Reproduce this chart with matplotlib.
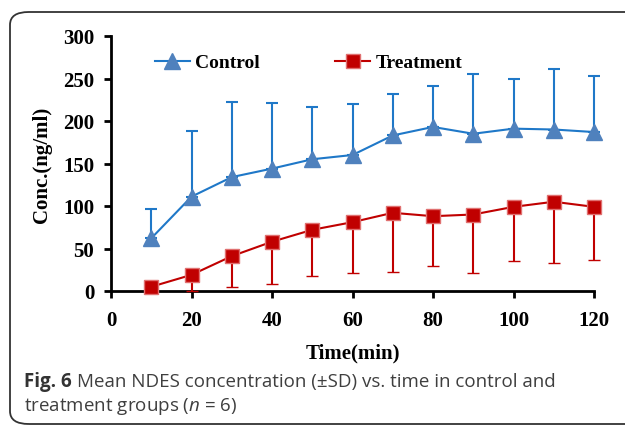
import numpy as np
import matplotlib.pyplot as plt
from matplotlib.patches import FancyBboxPatch

plt.rcParams['mathtext.fontset'] = 'custom'
plt.rcParams['mathtext.it'] = 'Open Sans:italic'
plt.rcParams['mathtext.rm'] = 'Open Sans'

time = [10, 20, 30, 40, 50, 60, 70, 80, 90, 100, 110, 120]
control = [62, 111, 134, 144, 155, 160, 183, 193, 185, 191, 190, 187]
control_top = [97, 188, 222, 221, 216, 220, 232, 241, 255, 249, 261, 253]
treatment = [5, 19, 41, 58, 72, 81, 92, 88, 90, 99, 105, 99]
treatment_low = [5, 0, 5, 8, 18, 21, 22, 29, 21, 35, 33, 37]

ctrl_sd = np.array(control_top) - np.array(control)
trt_sd = np.array(treatment) - np.array(treatment_low)

fig = plt.figure(figsize=(6.25, 4.27), dpi=100)

# rounded frame around figure + caption
frame = FancyBboxPatch((10 / 625, 2 / 427), 640 / 625, 412 / 427,
                       boxstyle="round,pad=0,rounding_size=0.03",
                       transform=fig.transFigure, fill=False,
                       edgecolor='#333333', linewidth=1.3)
fig.patches.append(frame)

ax = fig.add_axes([111 / 625, 1 - 292 / 427, 483 / 625, 255 / 427])

serif = 'Liberation Serif'
eb1 = ax.errorbar(time, control, yerr=[np.zeros(len(time)), ctrl_sd],
                  color='#1f78c8', lw=1.5, marker='^', ms=12, mfc='#4f81bd',
                  mec='#4f81bd', capsize=4, capthick=1.5, elinewidth=1.5,
                  label='Control', zorder=3)
eb2 = ax.errorbar(time, treatment, yerr=[trt_sd, np.zeros(len(time))],
                  color='#c00000', lw=1.5, marker='s', ms=9.5, mfc='#c00000',
                  mec='#e07070', mew=1, capsize=4, capthick=1.5, elinewidth=1.5,
                  label='Treatment', zorder=3)
for eb in (eb1, eb2):
    for a in eb.lines[1] + eb.lines[2] + (eb.lines[0],):
        a.set_clip_on(False)

ax.set_xlim(0, 120)
ax.set_ylim(0, 300)
ax.set_xticks(range(0, 121, 20))
ax.set_yticks(range(0, 301, 50))
for s in ['top', 'right']:
    ax.spines[s].set_visible(False)
for s in ['left', 'bottom']:
    ax.spines[s].set_linewidth(2)
ax.tick_params(direction='out', width=2, length=5, labelsize=15)
ax.tick_params(axis='x', pad=9)
ax.tick_params(axis='y', pad=7)
for lab in ax.get_xticklabels() + ax.get_yticklabels():
    lab.set_fontfamily(serif)
    lab.set_fontweight('bold')
ax.set_xlabel('Time(min)', fontfamily=serif, fontweight='bold', fontsize=15, labelpad=9)
ax.set_ylabel('Conc.(ng/ml)', fontfamily=serif, fontweight='bold', fontsize=15, labelpad=8)

h, l = ax.get_legend_handles_labels()
h = [x[0] for x in h]
ax.legend(h, l, ncol=2, loc='upper left', bbox_to_anchor=(0.091, 0.93),
          frameon=False, handlelength=1.8, columnspacing=3.9, handletextpad=0.25,
          borderpad=0, borderaxespad=0,
          prop={'family': serif, 'weight': 'bold', 'size': 14})

# caption
cap_col = '#3f3f3f'
t1 = fig.text(24 / 625, 1 - 382 / 427, 'Fig. 6', fontfamily='Open Sans',
              fontweight='bold', fontsize=13.5, color='#333333', va='center')
fig.canvas.draw()
bb = t1.get_window_extent()
x2 = (bb.x1 + 5) / fig.bbox.width
fig.text(x2, 1 - 382 / 427, 'Mean NDES concentration (±SD) vs. time in control and',
         fontfamily='Open Sans', fontsize=13.5, color=cap_col, va='center')
fig.text(24 / 625, 1 - 407 / 427, 'treatment groups ($\\it{n}$ = 6)',
         fontfamily='Open Sans', fontsize=13.5, color=cap_col, va='center')

fig.savefig('out.png', dpi=100)
